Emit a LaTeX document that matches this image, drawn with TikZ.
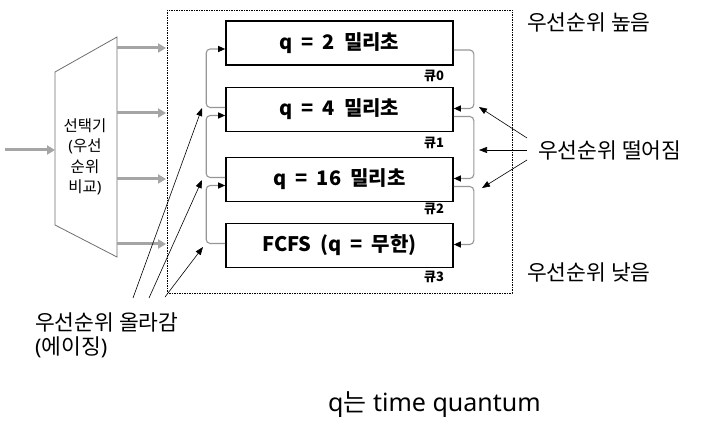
\documentclass[tikz,border=0pt]{standalone}
\usepackage{fontspec}
\setmainfont{Noto Sans}
\newfontfamily\kr{Noto Sans CJK KR}
\usetikzlibrary{arrows.meta,calc}
\definecolor{cgray}{RGB}{150,150,150}
\definecolor{sgray}{RGB}{165,165,165}
\definecolor{tgray}{RGB}{110,110,110}
\newcommand{\wsp}{\hspace{9pt}}
\begin{document}
\begin{tikzpicture}[x=1pt,y=-1pt,
  qbox/.style={draw=black,line width=1.6pt,minimum width=227pt,minimum height=44pt,inner sep=0pt,font=\kr\fontsize{20}{22}\selectfont\bfseries},
  qlab/.style={inner sep=0pt,font=\kr\fontsize{13}{14}\selectfont\bfseries},
  lab/.style={inner sep=0pt,anchor=west,font=\fontsize{21.5}{24}\selectfont},
  conn/.style={draw=cgray,line width=1.1pt,rounded corners=4pt,-{Triangle[length=7pt,width=6pt,color=black,fill=black]}},
  thick gray/.style={draw=sgray,line width=3pt,-{Triangle[length=8pt,width=9pt,fill=sgray,color=sgray]}},
  blk/.style={draw=black,line width=0.6pt,-{Triangle[length=8pt,width=6pt,fill=black]}}
]
\useasboundingbox (0,0) rectangle (728,446);

% dashed frame
\draw[line width=0.8pt,dash pattern=on 1.5pt off 1pt] (167,10) rectangle (512,293);

% queue boxes
\node[qbox] (b0) at (339.5,43) {q\wsp{}=\wsp{}2\wsp{}밀리초};
\node[qbox] (b1) at (339.5,109.5) {q\wsp{}=\wsp{}4\wsp{}밀리초};
\node[qbox] (b2) at (339.5,179.5) {q\wsp{}=\wsp{}16\wsp{}밀리초};
\node[qbox] (b3) at (339.5,245.5) {FCFS\wsp{}(q\wsp{}=\wsp{}무한)};

\node[qlab] (l0) at (434,76) {큐0};
\node[qlab] (l1) at (434,143) {큐1};
\node[qlab] (l2) at (434,209) {큐2};
\node[qlab] (l3) at (434,277) {큐3};

% left brackets (aging, upward)
\foreach \lo/\up in {b1/b0,b2/b1,b3/b2}{
  \draw[conn] ($(\lo.west)+(0,-2)$) -- ($(\lo.west)+(-19,-2)$) -- ($(\up.west)+(-19,6)$) -- ($(\up.west)+(0,6)$);
}
% right brackets (downward)
\foreach \up/\lo in {b0/b1,b1/b2,b2/b3}{
  \draw[conn] ($(\up.east)+(0,7)$) -- ($(\up.east)+(20,7)$) -- ($(\lo.east)+(20,-1)$) -- ($(\lo.east)+(0,-1)$);
}

% selector
\draw[draw=tgray,line width=0.8pt] (55,72) -- (117,37) -- (117,257) -- (55,225) -- cycle;
\node[inner sep=0pt,align=center,font=\fontsize{15.5}{20.5}\selectfont] (sel) at (85,157) {{\kr 선택기}\\({\kr 우선}\\{\kr 순위}\\{\kr 비교})};
\coordinate (in0) at (5,150);
\coordinate (in1) at (55,150);
\draw[thick gray] (in0) -- (in1);
\foreach \yy in {48,113,179,244}{
  \coordinate (s\yy) at (117,\yy);
  \coordinate (t\yy) at (166,\yy);
  \draw[thick gray] (s\yy) -- (t\yy);
}

% labels
\node[lab] (hi) at (527,22) {\kr 우선순위 높음};
\node[lab] (lo) at (527,272) {\kr 우선순위 낮음};
\node[lab] (dn) at (538,150) {\kr 우선순위 떨어짐};
\node[lab] (ag) at (35,322) {\kr 우선순위 올라감};
\node[lab] (ag2) at (35,347) {({\kr 에이징})};
\node[inner sep=0pt,anchor=west,font=\fontsize{25}{28}\selectfont] (tq) at (328,405) {q{\kr 는} time quantum};

% priority down arrows
\coordinate (d0) at (527,138);
\coordinate (d1) at (527,150);
\coordinate (d2) at (527,160);
\coordinate (e0) at (479,107);
\coordinate (e1) at (479,150);
\coordinate (e2) at (482,188);
\draw[blk] (d0) -- (e0);
\draw[blk] (d1) -- (e1);
\draw[blk] (d2) -- (e2);

% aging arrows
\coordinate (a0) at (133,298);
\coordinate (a1) at (149,298);
\coordinate (a2) at (165,297);
\coordinate (f0) at (202,108);
\coordinate (f1) at (202,180);
\coordinate (f2) at (203,247);
\draw[blk] (a0) -- (f0);
\draw[blk] (a1) -- (f1);
\draw[blk] (a2) -- (f2);
\end{tikzpicture}
\end{document}
